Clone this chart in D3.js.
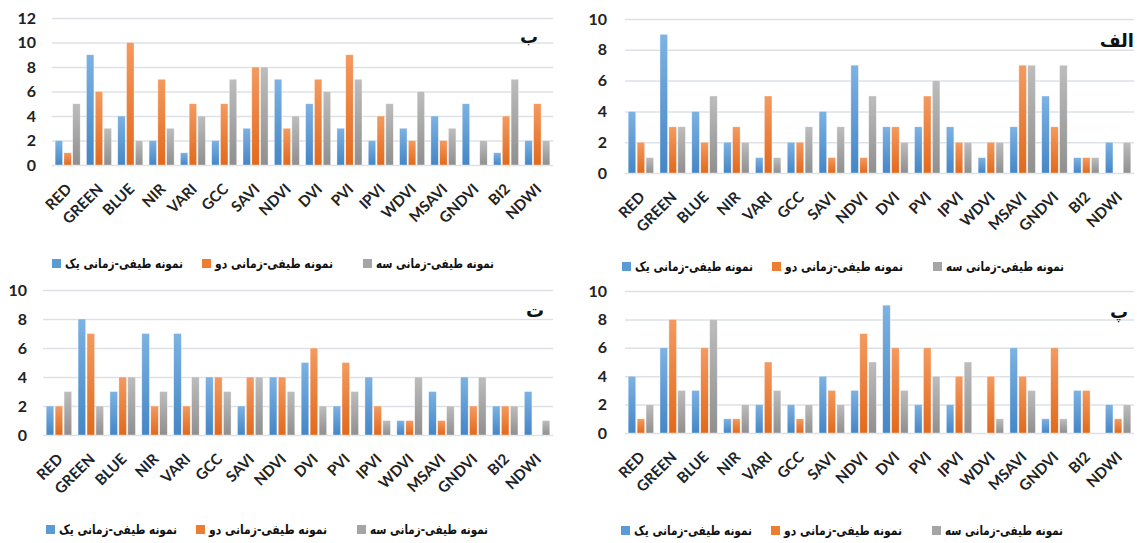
<!DOCTYPE html>
<html>
<head>
<meta charset="utf-8">
<script src="https://d3js.org/d3.v7.min.js"></script>
<style>
body{margin:0;background:#fff;}
svg{display:block;}
.ytick text{font-family:Lato,"Open Sans",sans-serif;font-weight:bold;font-size:16px;fill:#222;}
.xtick text{font-family:Lato,"Open Sans",sans-serif;font-weight:bold;font-size:15px;fill:#222;}
.grid line{stroke:#dde1e6;stroke-width:1.5;}
.fa{font-family:"DejaVu Sans","Noto Sans",sans-serif;font-weight:bold;fill:#111;}
</style>
</head>
<body>
<svg id="chart" width="1137" height="543"></svg>
<script>
// categories (x axis)
const categories = ["RED","GREEN","BLUE","NIR","VARI","GCC","SAVI","NDVI","DVI","PVI","IPVI","WDVI","MSAVI","GNDVI","BI2","NDWI"];
const seriesNames = ["نمونه طیفی-زمانی یک","نمونه طیفی-زمانی دو","نمونه طیفی-زمانی سه"];

// panel ب (top left)
const beS1 = [2,9,4,2,1,2,3,7,5,3,2,3,4,5,1,2];
const beS2 = [1,6,10,7,5,5,8,3,7,9,4,2,2,0,4,5];
const beS3 = [5,3,2,3,4,7,8,4,6,7,5,6,3,2,7,2];

// panel الف (top right)
const alefS1 = [4,9,4,2,1,2,4,7,3,3,3,1,3,5,1,2];
const alefS2 = [2,3,2,3,5,2,1,1,3,5,2,2,7,3,1,0];
const alefS3 = [1,3,5,2,1,3,3,5,2,6,2,2,7,7,1,2];

// panel ت (bottom left)
const teS1 = [2,8,3,7,7,4,2,4,5,2,4,1,3,4,2,3];
const teS2 = [2,7,4,2,2,4,4,4,6,5,2,1,1,2,2,0];
const teS3 = [3,2,4,3,4,3,4,3,2,3,1,4,2,4,2,1];

// panel پ (bottom right)
const peS1 = [4,6,3,1,2,2,4,3,9,2,2,0,6,1,3,2];
const peS2 = [1,8,6,1,5,1,3,7,6,6,4,4,4,6,3,1];
const peS3 = [2,3,8,2,3,2,2,5,3,4,5,1,3,1,0,2];

// y axis tick labels
const ticks12 = [0,2,4,6,8,10,12];
const ticks10 = [0,2,4,6,8,10];

const svg = d3.select("#chart");
const defs = svg.append("defs");
const grads = [["g0","#7db2e3","#4586c6"],["g1","#f49a60","#e2691c"],["g2","#bdbdbd","#8f8f8f"]];
grads.forEach(function(g){
  const lg = defs.append("linearGradient").attr("id", g[0]).attr("x1",0).attr("y1",0).attr("x2",0).attr("y2",1);
  lg.append("stop").attr("offset","0%").attr("stop-color", g[1]);
  lg.append("stop").attr("offset","100%").attr("stop-color", g[2]);
});
const legendColors = ["#5b9bd5","#ed7d31","#a5a5a5"];
const legendOffsets = [0, 150, 311];

function drawPanel(p) {
  const x0 = d3.scaleBand().domain(categories).range([p.left, p.right]).paddingInner(0.2).paddingOuter(0.1);
  const x1 = d3.scaleBand().domain([0,1,2]).range([0, x0.bandwidth()]).paddingInner(0.15);
  const y = d3.scaleLinear().domain([0, p.max]).range([p.bottom, p.top]);

  const ga = svg.append("g").attr("class","grid ytick").attr("transform","translate(" + p.left + ",0)")
    .call(d3.axisLeft(y).tickValues(p.ticks).tickSize(-(p.right - p.left)).tickPadding(p.pad));
  ga.select(".domain").remove();

  const series = [p.s1, p.s2, p.s3];
  const groups = svg.append("g").selectAll("g").data(categories).enter().append("g")
    .attr("transform", function(d){ return "translate(" + x0(d) + ",0)"; });
  groups.selectAll("rect").data(function(d, i){ return series.map(function(s, k){ return {k: k, v: s[i]}; }); })
    .enter().append("rect")
    .attr("x", function(d){ return x1(d.k); })
    .attr("y", function(d){ return y(d.v); })
    .attr("width", x1.bandwidth())
    .attr("height", function(d){ return p.bottom - y(d.v); })
    .attr("fill", function(d){ return "url(#g" + d.k + ")"; })
    .attr("stroke", "rgba(255,255,255,0.6)").attr("stroke-width", 0.6);

  const xa = svg.append("g").attr("class","xtick").attr("transform","translate(0," + p.bottom + ")")
    .call(d3.axisBottom(x0).tickSize(0).tickPadding(0));
  xa.select(".domain").remove();
  xa.selectAll("text")
    .attr("text-anchor","end")
    .attr("dy", null)
    .attr("transform","translate(5,25) rotate(-45)");

  svg.append("text").attr("class","fa").attr("x", p.labelX).attr("y", p.labelY)
    .attr("direction","rtl").attr("text-anchor","start").style("font-size","18px").text(p.label);

  // legend
  seriesNames.forEach(function(name, k){
    const lx = p.legendX + legendOffsets[k];
    svg.append("rect").attr("x", lx).attr("y", p.legendY - 9).attr("width", 9).attr("height", 9).attr("fill", legendColors[k]);
    svg.append("text").attr("class","fa").attr("x", lx + 13).attr("y", p.legendY)
      .style("font-size","13px").attr("textLength", 118).attr("lengthAdjust","spacingAndGlyphs").text(name);
  });
}

drawPanel({s1: beS1, s2: beS2, s3: beS3, max: 12, ticks: ticks12, left: 52, right: 553, top: 18, bottom: 165, pad: 16,
  label: "ب", labelX: 538, labelY: 43, legendX: 52, legendY: 268});
drawPanel({s1: alefS1, s2: alefS2, s3: alefS3, max: 10, ticks: ticks10, left: 625, right: 1134, top: 19, bottom: 173, pad: 18,
  label: "الف", labelX: 1134, labelY: 47, legendX: 622, legendY: 271});
drawPanel({s1: teS1, s2: teS2, s3: teS3, max: 10, ticks: ticks10, left: 43, right: 553, top: 290, bottom: 435, pad: 16,
  label: "ت", labelX: 544, labelY: 317, legendX: 46, legendY: 534});
drawPanel({s1: peS1, s2: peS2, s3: peS3, max: 10, ticks: ticks10, left: 625, right: 1134, top: 291, bottom: 433, pad: 18,
  label: "پ", labelX: 1128, labelY: 318, legendX: 621, legendY: 535});
</script>
</body>
</html>
